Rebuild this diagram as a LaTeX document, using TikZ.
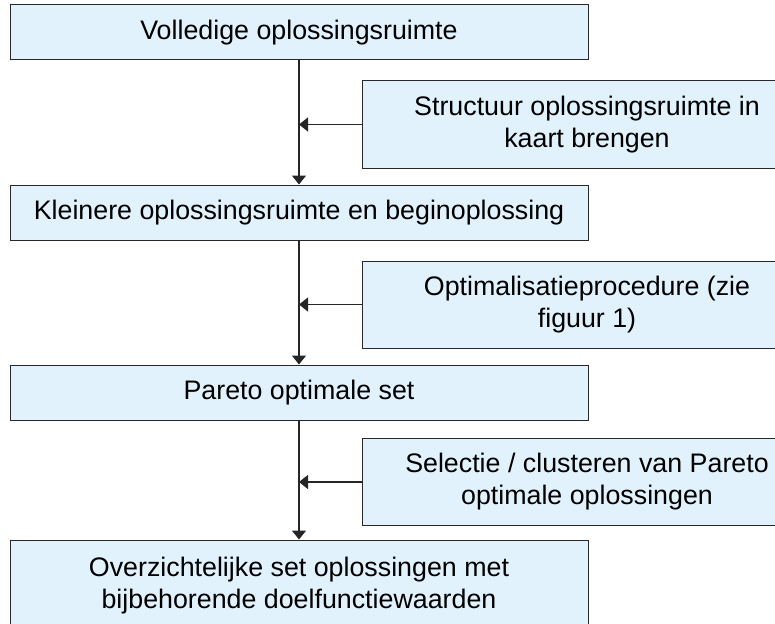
\documentclass[tikz,border=0pt]{standalone}
\usepackage{fontspec}
\setmainfont{Liberation Sans}
\usetikzlibrary{arrows.meta}
\definecolor{boxfill}{RGB}{225,242,253}
\definecolor{boxline}{RGB}{40,40,40}
\begin{document}
\begin{tikzpicture}[x=1pt,y=-1pt,
  mainbox/.style={draw=boxline,line width=1pt,fill=boxfill,minimum width=578pt,minimum height=55pt,inner sep=0pt,align=center,font=\fontsize{26.8}{32}\selectfont},
  sidebox/.style={draw=boxline,line width=1pt,fill=boxfill,minimum width=450pt,minimum height=87pt,inner sep=0pt,align=center,font=\fontsize{26.8}{32}\selectfont},
  conn/.style={draw=black!85,line width=1.3pt,-{Triangle[length=9pt,width=14pt]}}]
\path[use as bounding box] (0,0) rectangle (775,623);
\clip (0,0) rectangle (775,623);
\node[mainbox] (b1) at (299,32.5) {Volledige oplossingsruimte};
\node[mainbox] (b2) at (299,212.5) {Kleinere oplossingsruimte en beginoplossing};
\node[mainbox] (b3) at (299,392.5) {Pareto optimale set};
\node[mainbox,minimum height=92pt] (b4) at (299,586) {Overzichtelijke set oplossingen met\\bijbehorende doelfunctiewaarden};
\node[sidebox] (s1) at (587,124.5) {Structuur oplossingsruimte in\\kaart brengen};
\node[sidebox] (s2) at (587,304.5) {Optimalisatieprocedure (zie\\figuur 1)};
\node[sidebox] (s3) at (587,482) {Selectie / clusteren van Pareto\\optimale oplossingen};
\draw[conn] (b1.south) -- (b2.north);
\draw[conn] (b2.south) -- (b3.north);
\draw[conn] (b3.south) -- (b4.north);
\draw[conn] (s1.west) -- (s1.west -| b1.south);
\draw[conn] (s2.west) -- (s2.west -| b1.south);
\draw[conn] (s3.west) -- (s3.west -| b1.south);
\end{tikzpicture}
\end{document}
